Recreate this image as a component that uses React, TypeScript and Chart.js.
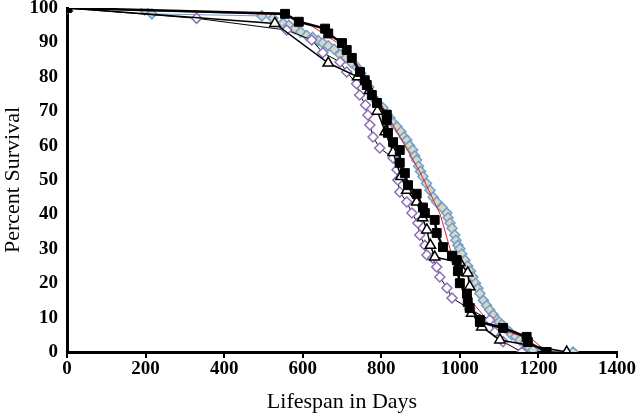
import React, { useEffect, useRef } from "react";
import { Chart, registerables } from "chart.js";

Chart.register(...registerables);

// ---- Data (days, percent survival) ----
const blueDays = [0, 198, 216, 496, 524, 550, 565, 580, 595, 610, 625, 640, 651, 665, 680, 695, 710, 725, 738, 748, 758, 768, 779, 790, 804, 815, 822, 830, 840, 850, 858, 865, 872, 880, 885, 890, 895, 900, 906, 915, 924, 932, 941, 955, 967, 970, 975, 980, 987, 990, 995, 1000, 1005, 1013, 1020, 1027, 1033, 1040, 1046, 1051, 1060, 1068, 1076, 1085, 1094, 1100, 1107, 1115, 1127, 1132, 1142, 1153, 1165, 1175, 1186, 1288];
const bluePct = [100, 99.4, 98.3, 97.7, 97, 95.6, 95, 94, 93, 92, 91.5, 90.5, 89.8, 89, 88, 86.5, 85.5, 84, 82.8, 81, 79, 77, 74, 72.5, 71, 69, 68, 66.6, 65.5, 64, 62.5, 61.6, 60, 58.7, 57, 55.8, 54, 52.5, 51, 49, 47, 45, 43.6, 42, 40.4, 39, 37.5, 36, 34, 32.5, 31, 30, 28.5, 26.7, 25, 23.5, 21.8, 20, 18.5, 17, 15, 13.5, 12.2, 10.8, 9.3, 8.7, 8, 7, 5.8, 5, 4.5, 3.5, 2.5, 1.5, 0.6, 0];

const redDays = [0, 560, 620, 660, 700, 750, 800, 850, 900, 950, 1005, 1050, 1076, 1132, 1186, 1211, 1225];
const redPct = [100, 98, 95, 92, 89, 82, 72, 62, 52, 40, 18, 12, 8.4, 5.5, 3.5, 1, 0];

const squareDays = [0, 555, 590, 657, 665, 700, 712, 725, 746, 758, 763, 776, 789, 814, 814, 817, 830, 847, 847, 860, 868, 890, 906, 911, 936, 941, 957, 980, 992, 995, 1000, 1018, 1020, 1025, 1051, 1051, 1110, 1170, 1173, 1221];
const squarePct = [100, 98.3, 96, 94, 92.6, 89.8, 87.8, 85.5, 81.4, 79, 77.6, 74.7, 72.4, 69, 67.4, 63.7, 61, 58.7, 55, 52, 48.5, 46, 42, 40.4, 38.4, 34.6, 30.5, 28, 26.7, 23.5, 20, 17, 14.5, 12.8, 9.3, 8.7, 7, 4.4, 2.9, 0];

const triDays = [0, 529, 665, 740, 770, 790, 810, 830, 850, 865, 890, 905, 916, 925, 936, 1000, 1020, 1025, 1030, 1056, 1102, 1272];
const triPct = [100, 95.5, 84, 80, 76, 70, 64, 58, 51, 47, 43.6, 39, 35.5, 31, 27.6, 26, 23, 19, 11.3, 7.3, 3.5, 0];

const purpleDays = [0, 330, 559, 623, 651, 695, 712, 737, 745, 760, 766, 771, 779, 796, 830, 840, 842, 847, 865, 878, 893, 898, 911, 916, 931, 941, 949, 967, 980, 1025, 1076, 1089, 1110, 1158];
const purplePct = [100, 97, 93.6, 90.7, 87, 84.3, 81.4, 78, 74.7, 71.8, 68.9, 66, 62.5, 59.3, 56.4, 53, 50, 46.5, 43.6, 40.4, 37.5, 34, 31, 28.2, 27.3, 24.7, 21.8, 18.6, 15.7, 12.5, 9.3, 5.8, 3, 0];

const xTicks = [0, 200, 400, 600, 800, 1000, 1200, 1400];
const yTicks = [0, 10, 20, 30, 40, 50, 60, 70, 80, 90, 100];

const toPoints = (xs: number[], ys: number[]) => xs.map((x, i) => ({ x, y: ys[i] }));

export default function App() {
  const ref = useRef<HTMLCanvasElement>(null);

  useEffect(() => {
    if (!ref.current) return;
    const tickFont = { family: "'Liberation Serif', 'Times New Roman', serif", size: 19, weight: "bold" as const };
    const titleFont = { family: "'Liberation Serif', 'Times New Roman', serif", size: 22, weight: "normal" as const };
    const chart = new Chart(ref.current, {
      type: "scatter",
      data: {
        datasets: [
          {
            label: "squares",
            data: toPoints(squareDays, squarePct),
            showLine: true,
            borderColor: "#000000",
            borderWidth: 2.5,
            pointStyle: "rect",
            pointRadius: 6.3,
            pointBackgroundColor: "#000000",
            pointBorderColor: "#000000",
            pointBorderWidth: 1,
          },
          {
            label: "triangles",
            data: toPoints(triDays, triPct),
            showLine: true,
            borderColor: "#000000",
            borderWidth: 1.5,
            pointStyle: "triangle",
            pointRadius: 6,
            pointBackgroundColor: "#ffffff",
            pointBorderColor: "#000000",
            pointBorderWidth: 1.5,
          },
          {
            label: "purple",
            data: toPoints(purpleDays, purplePct),
            showLine: true,
            borderColor: "#000000",
            borderWidth: 1,
            pointStyle: "rectRot",
            pointRadius: 5,
            pointBackgroundColor: "#ffffff",
            pointBorderColor: "#8a6fb5",
            pointBorderWidth: 1.5,
          },
          {
            label: "red",
            data: toPoints(redDays, redPct),
            showLine: true,
            borderColor: "#e02020",
            borderWidth: 1,
            pointRadius: 0,
          },
          {
            label: "blue",
            data: toPoints(blueDays, bluePct),
            showLine: true,
            borderColor: "#6d9fd0",
            borderWidth: 1,
            pointStyle: "rectRot",
            pointRadius: 5,
            pointBackgroundColor: "#dcd6c0",
            pointBorderColor: "#6d9fd0",
            pointBorderWidth: 1.5,
          },
        ],
      },
      options: {
        animation: false,
        responsive: false,
        layout: { padding: { left: 0, right: 23, top: 8, bottom: 0 } },
        plugins: { legend: { display: false }, tooltip: { enabled: false } },
        scales: {
          x: {
            type: "linear",
            min: 0,
            max: 1400,
            afterBuildTicks: (s: any) => { s.ticks = xTicks.map((v) => ({ value: v })); },
            afterFit: (s: any) => { s.height = 64; s.paddingLeft = 0; s.paddingRight = 0; },
            ticks: { color: "#000", font: tickFont, padding: 0, maxRotation: 0, callback: (v: any) => String(v) },
            grid: { display: true, drawOnChartArea: false, drawTicks: true, tickLength: 6, color: "#000", lineWidth: 2 },
            border: { display: true, color: "#000", width: 3 },
            title: { display: true, text: "Lifespan in Days", color: "#000", font: titleFont, padding: { top: 0, bottom: 1 } },
          },
          y: {
            type: "linear",
            min: 0,
            max: 100,
            afterBuildTicks: (s: any) => { s.ticks = yTicks.map((v) => ({ value: v })); },
            afterFit: (s: any) => { s.width = 67; s.paddingTop = 0; s.paddingBottom = 0; },
            ticks: { color: "#000", font: tickFont, padding: 9, callback: (v: any) => String(v) },
            grid: { display: false, drawTicks: false },
            border: { display: true, color: "#000", width: 3 },
            title: { display: true, text: "Percent Survival", color: "#000", font: titleFont, padding: { top: 0, bottom: 0 } },
          },
        },
      },
    });
    return () => chart.destroy();
  }, []);

  return (
    <div style={{ position: "fixed", left: 0, top: 0, width: 640, height: 416, background: "#fff" }}>
      <canvas ref={ref} width={640} height={416} style={{ width: 640, height: 416 }} />
    </div>
  );
}
